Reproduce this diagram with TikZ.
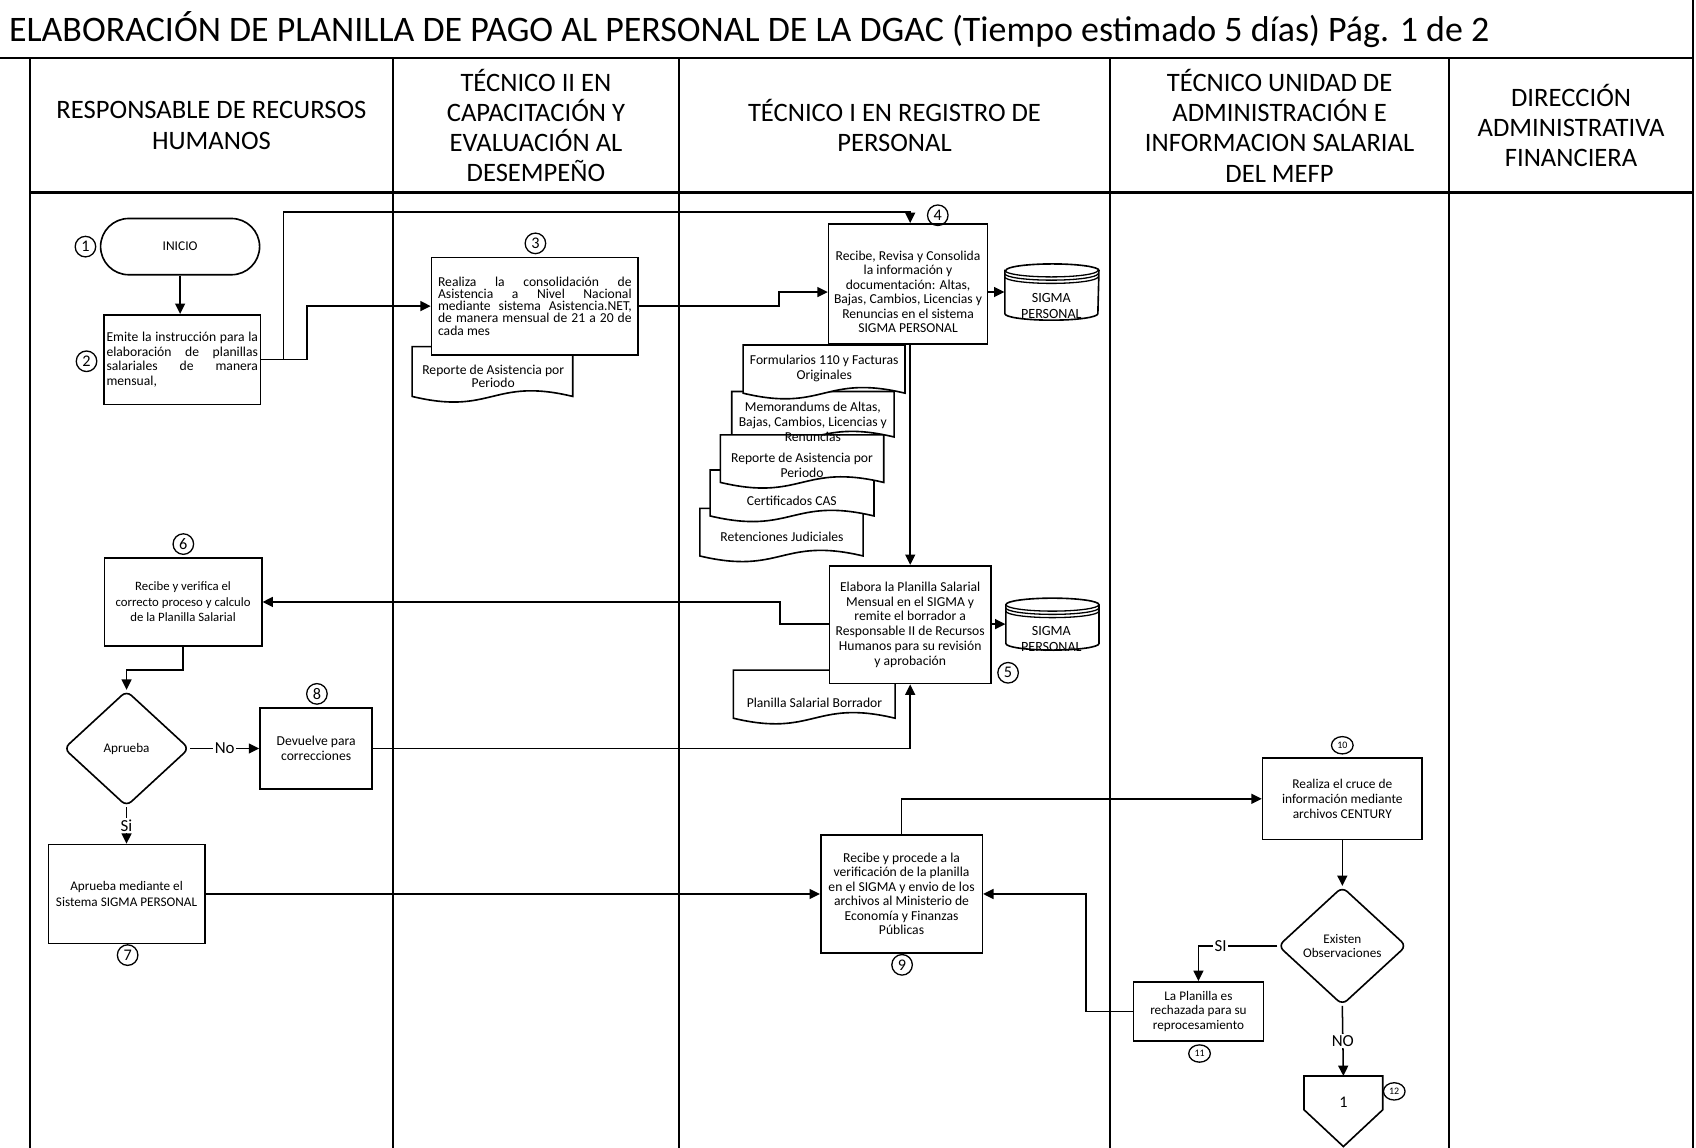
\documentclass[tikz,border=0pt]{standalone}
\usepackage{fontspec}
\setmainfont{Carlito}
\usetikzlibrary{arrows.meta,shapes.geometric,calc}

% wavy-bottom document symbol: x1, y-top, x2, y-bottom
\newcommand{\docshape}[4]{%
  \draw[doc] (#1,#2) -- (#3,#2) -- (#3,#4)
    .. controls ({(#1+#3)/2},{#4-18}) and ({(#1+#3)/2},{#4+18}) .. (#1,#4) -- cycle;}

% stacked-disk database symbol: x1, y-top, x2, y-bottom
\newcommand{\dbshape}[4]{%
  \draw[doc] (#1,{#2+6}) -- (#1,{#4-6})
    arc[start angle=180,end angle=360,x radius=21.5pt,y radius=3pt]
    -- (#3,{#2+6})
    arc[start angle=0,end angle=180,x radius=21.5pt,y radius=3pt] -- cycle;
  \draw[line width=0.6pt] (#1,{#2+6}) arc[start angle=180,end angle=360,x radius=21.5pt,y radius=3pt];
  \draw[line width=0.6pt] (#1,{#2+9}) arc[start angle=180,end angle=360,x radius=21.5pt,y radius=3pt];
  \draw[line width=0.6pt] (#1,{#2+12}) arc[start angle=180,end angle=360,x radius=21.5pt,y radius=3pt];}

\begin{document}
\begin{tikzpicture}[x=0.5pt,y=-0.5pt,
  lane/.style={line width=1pt},
  box/.style={draw, line width=0.75pt, fill=white, inner sep=1pt, align=center,
    font=\fontsize{6.3}{6.8}\selectfont},
  flow/.style={line width=0.7pt, -{Triangle[length=4.8pt,width=4.6pt]}},
  num/.style={circle, draw, line width=0.6pt, minimum size=9.5pt, inner sep=0pt,
    font=\fontsize{7.5}{7.5}\selectfont},
  smallnum/.style={ellipse, draw, line width=0.6pt, minimum width=10pt, minimum height=8pt,
    inner sep=0pt, font=\fontsize{4.6}{4.6}\selectfont},
  lbl/.style={fill=white, inner sep=0.6pt, font=\fontsize{7.8}{8}\selectfont},
  doc/.style={draw, line width=0.75pt, fill=white},
  dtext/.style={align=center, inner sep=0pt, font=\fontsize{6.3}{6.8}\selectfont},
  hdr/.style={align=center, inner sep=0pt, font=\fontsize{12.3}{14}\selectfont},
  decision/.style={diamond, draw, line width=0.75pt, fill=white, inner sep=0pt,
    rounded corners=3pt, align=center, font=\fontsize{6.1}{6.8}\selectfont},
]
\useasboundingbox (0,0) rectangle (1568,1061);

% ---- frame and swimlanes ----
\draw[lane] (0,54) -- (1565,54);
\draw[lane] (1565,0) -- (1565,1061);
\draw[lane] (28,54) -- (28,1061);
\draw[lane] (28,178) -- (1565,178);
\foreach \lx in {363,628,1026,1340} \draw[lane] (\lx,54) -- (\lx,1061);

\node[anchor=west, inner sep=0pt, font=\fontsize{16.6}{18}\selectfont] (title) at (8,27)
  {ELABORACIÓN DE PLANILLA DE PAGO AL PERSONAL DE LA DGAC (Tiempo estimado 5 días) Pág. 1 de 2};

\node[hdr] (h1) at (195.5,116) {RESPONSABLE DE RECURSOS\\HUMANOS};
\node[hdr] (h2) at (495.5,116) {TÉCNICO II EN\\CAPACITACIÓN Y\\EVALUACIÓN AL\\DESEMPEÑO};
\node[hdr] (h3) at (827,116) {TÉCNICO I EN REGISTRO DE\\PERSONAL};
\node[hdr] (h4) at (1183,116) {TÉCNICO UNIDAD DE\\ADMINISTRACIÓN E\\INFORMACION SALARIAL\\DEL MEFP};
\node[hdr] (h5) at (1452.5,116) {DIRECCIÓN\\ADMINISTRATIVA\\FINANCIERA};

% ---- documents (drawn before the boxes that overlap them) ----
\docshape{381}{320.5}{529.5}{366.5}
\docshape{647}{470}{798}{514}
\docshape{656.5}{434.5}{808}{477}
\docshape{676.5}{362}{826.6}{404}
\docshape{666}{402}{817}{446}
\docshape{687}{319}{836.7}{363.5}
\docshape{678}{619.5}{827.5}{664}

\node[dtext, font=\fontsize{6.3}{6}\selectfont] (tR) at (456,348) {Reporte de Asistencia por\\Periodo};
\node[dtext] (tE) at (723,496.5) {Retenciones Judiciales};
\node[dtext] (tD) at (732,463) {Certificados CAS};
\node[dtext, font=\fontsize{6.3}{7}\selectfont] (tB) at (751.5,390.3) {Memorandums de Altas,\\Bajas, Cambios, Licencias y\\Renuncias};
\node[dtext] (tC) at (741.5,430) {Reporte de Asistencia por\\Periodo};
\node[dtext] (tA) at (762,340.5) {Formularios 110 y Facturas\\Originales};
\node[dtext] (tP) at (753,650) {Planilla Salarial Borrador};

% ---- databases ----
\dbshape{929}{244}{1016}{296}
\node[inner sep=0pt, minimum width=43.5pt, minimum height=26pt] (db1) at (972.5,270) {};
\node[dtext, font=\fontsize{6.5}{7.6}\selectfont] (db1t) at (972,283) {SIGMA\\PERSONAL};
\dbshape{930}{553}{1016}{601}
\node[inner sep=0pt, minimum width=43pt, minimum height=24pt] (db2) at (973,577) {};
\node[dtext, font=\fontsize{6.5}{7.6}\selectfont] (db2t) at (972,590.5) {SIGMA\\PERSONAL};

% ---- process boxes ----
\node[draw, line width=0.75pt, rounded corners=13pt, minimum width=73.5pt, minimum height=26pt,
  font=\fontsize{6.2}{6.8}\selectfont] (ini) at (166.5,228) {INICIO};

\node[box, minimum width=72.5pt, minimum height=41.5pt, text width=70pt, align=justify] (b2) at (168.5,332.5)
  {Emite la instrucción para la\linebreak elaboración de planillas\linebreak salariales de manera\linebreak mensual,};

\node[box, minimum width=95.5pt, minimum height=45pt, text width=89.5pt, align=justify,
  font=\fontsize{6.3}{5.6}\selectfont] (b3) at (494.5,283)
  {Realiza la consolidación de\linebreak Asistencia a Nivel Nacional\linebreak mediante sistema Asistencia.NET,\linebreak de manera mensual de 21 a 20 de\linebreak cada mes};

\node[box, minimum width=73.5pt, minimum height=55.5pt, font=\fontsize{6.3}{6.7}\selectfont] (b4) at (839.5,262.5)
  {\rule{0pt}{11.7pt}Recibe, Revisa y Consolida\\la información y\\documentación: Altas,\\Bajas, Cambios, Licencias y\\Renuncias en el sistema\\SIGMA PERSONAL};

\node[box, minimum width=74.5pt, minimum height=54.5pt, font=\fontsize{6.3}{6.85}\selectfont] (b5) at (841.5,577.5)
  {Elabora la Planilla Salarial\\Mensual en el SIGMA y\\remite el borrador a\\Responsable II de Recursos\\Humanos para su revisión\\y aprobación};

\node[box, minimum width=72.75pt, minimum height=40.85pt, font=\fontsize{5.9}{7.1}\selectfont] (b6) at (169.25,556.5)
  {Recibe y verifica el\\correcto proceso y calculo\\de la Planilla Salarial};

\node[box, minimum width=72.3pt, minimum height=45.75pt, font=\fontsize{6.1}{7}\selectfont] (b7) at (117,826.5)
  {Aprueba mediante el\\Sistema SIGMA PERSONAL};

\node[box, minimum width=51.9pt, minimum height=37.4pt, font=\fontsize{6.3}{7}\selectfont] (b8) at (292.3,692)
  {Devuelve para\\correcciones};

\node[box, minimum width=74.7pt, minimum height=54.4pt, font=\fontsize{6.3}{6.7}\selectfont] (b9) at (833.5,826.5)
  {Recibe y procede a la\\verificación de la planilla\\en el SIGMA y envio de los\\archivos al Ministerio de\\Economía y Finanzas\\Públicas};

\node[box, minimum width=73.7pt, minimum height=37.5pt, font=\fontsize{6.2}{6.8}\selectfont] (b10) at (1241,738.5)
  {Realiza el cruce de\\información mediante\\archivos CENTURY};

\node[box, minimum width=60.1pt, minimum height=27.3pt, font=\fontsize{6.1}{6.7}\selectfont] (b11) at (1108,935)
  {La Planilla es\\rechazada para su\\reprocesamiento};

\node[decision, minimum width=58pt, minimum height=53.5pt] (d1) at (117,692) {Aprueba};
\node[decision, minimum width=59.4pt, minimum height=54.7pt] (d2) at (1241,874.5) {Existen\\Observaciones};

% off-page connector
\draw[line width=0.75pt, fill=white] (1205.6,994.8) -- (1278.4,994.8) -- (1278.4,1026) -- (1242,1060) -- (1205.6,1026) -- cycle;
\coordinate (op) at (1242,994.8);
\node[font=\fontsize{7.5}{8}\selectfont] (opt) at (1242,1019) {1};

% ---- step numbers ----
\node[num] (n1) at (79,228) {1};
\node[num] (n2) at (80,334) {2};
\node[num] (n3) at (495,225) {3};
\node[num] (n4) at (867,199) {4};
\node[num] (n5) at (932,622) {5};
\node[num] (n6) at (169.5,503) {6};
\node[num] (n7) at (118,883) {7};
\node[num] (n8) at (293,641.5) {8};
\node[num] (n9) at (834,892) {9};
\node[smallnum] (n10) at (1241,689) {10};
\node[smallnum] (n11) at (1109,974) {11};
\node[smallnum] (n12) at (1289,1009) {12};

% ---- connectors ----
\draw[flow] (ini.south) -- (ini.south |- b2.north);
\draw[flow] (b2.east) -| (262,196) -| (b5.north |- b4.north);
\draw[flow] (b2.east) -| (284,283) -- (b3.west);
\draw[flow] (b3.east) -- (720,283) |- (b4.west |- db1.west);
\draw[flow] (b4.east |- db1.west) -- (db1.west);
\draw[flow] (b4.south -| b5.north) -- (b5.north);
\draw[flow] (b5.east |- db2.west) -- (db2.west);
\draw[flow] (b5.west |- db2.west) -- (721,577) |- (b6.east);
\draw[flow] (b6.south) -- ++(0,21.5) -| (d1.north);
\draw[flow] (d1.east) -- node[lbl] {No} (b8.west);
\draw[flow] (b8.east) -| (b5.south);
\draw[flow] (d1.south) -- node[lbl] {Si} (d1.south |- b7.north);
\draw[flow] (b7.east) -- (b7.east -| b9.west);
\draw[flow] (b9.north) |- (b10.west);
\draw[flow] (b10.south) -- (d2.north);
\draw[flow] (d2.west) -| node[lbl, pos=0.36] {SI} (b11.north);
\draw[flow] (b11.west) -- (1004,935) |- (b9.east);
\draw[flow] (d2.south) -- node[lbl] {NO} (op);
\end{tikzpicture}
\end{document}
